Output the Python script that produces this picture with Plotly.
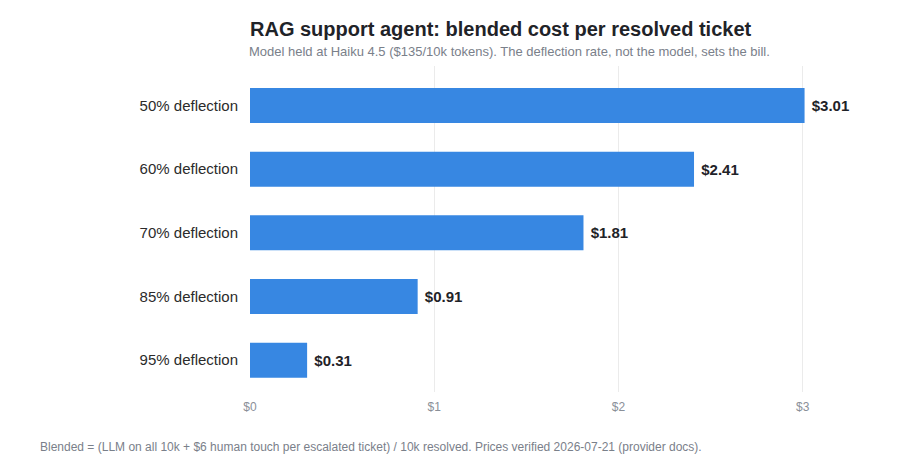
import plotly.graph_objects as go

categories = ["50% deflection", "60% deflection", "70% deflection", "85% deflection", "95% deflection"]
costs = [3.01, 2.41, 1.81, 0.91, 0.31]
cost_labels = ["$3.01", "$2.41", "$1.81", "$0.91", "$0.31"]
tick_vals = [0, 1, 2, 3]
tick_text = ["$0", "$1", "$2", "$3"]

FONT = "Liberation Sans, Arial, Helvetica, sans-serif"
PLOT_W = 608

fig = go.Figure(go.Bar(
    x=costs,
    y=categories,
    orientation="h",
    marker=dict(color="#3787e2", line=dict(width=0)),
    text=cost_labels,
    texttemplate="&nbsp;<b>%{text}</b>",
    textposition="outside",
    textfont=dict(family=FONT, size=15, color="#1f2328"),
    cliponaxis=False,
    hoverinfo="skip",
))

fig.update_layout(
    width=900,
    height=470,
    margin=dict(l=250, r=900 - 250 - PLOT_W, t=66, b=78),
    paper_bgcolor="white",
    plot_bgcolor="white",
    bargap=0.45,
    showlegend=False,
    font=dict(family=FONT),
    xaxis=dict(
        range=[0, 3.3],
        tickvals=tick_vals,
        ticktext=tick_text,
        showgrid=True,
        gridcolor="#ebebeb",
        gridwidth=1,
        zeroline=False,
        showline=False,
        ticks="",
        ticklabelstandoff=6,
        tickfont=dict(family=FONT, size=12, color="#8a8f98"),
    ),
    yaxis=dict(
        categoryorder="array",
        categoryarray=categories,
        range=[4.5, -0.62],
        showgrid=False,
        zeroline=False,
        showline=False,
        ticks="",
        ticklabelstandoff=11,
        tickfont=dict(family=FONT, size=15, color="#2b2b2b"),
    ),
    annotations=[
        dict(text="<b>RAG support agent: blended cost per resolved ticket</b>",
             xref="paper", yref="paper", x=-2 / PLOT_W, y=1.1135, xanchor="left", yanchor="middle",
             showarrow=False, font=dict(family=FONT, size=20, color="#1f2328")),
        dict(text="Model held at Haiku 4.5 ($135/10k tokens). The deflection rate, not the model, sets the bill.",
             xref="paper", yref="paper", x=-3 / PLOT_W, y=1.043, xanchor="left", yanchor="middle",
             showarrow=False, font=dict(family=FONT, size=13, color="#7a808a")),
        dict(text="Blended = (LLM on all 10k + $6 human touch per escalated ticket) / 10k resolved. Prices verified 2026-07-21 (provider docs).",
             xref="paper", yref="paper", x=-212 / PLOT_W, y=-0.168, xanchor="left", yanchor="middle",
             showarrow=False, font=dict(family=FONT, size=12, color="#7a808a")),
    ],
)

fig.write_html("out.html")
